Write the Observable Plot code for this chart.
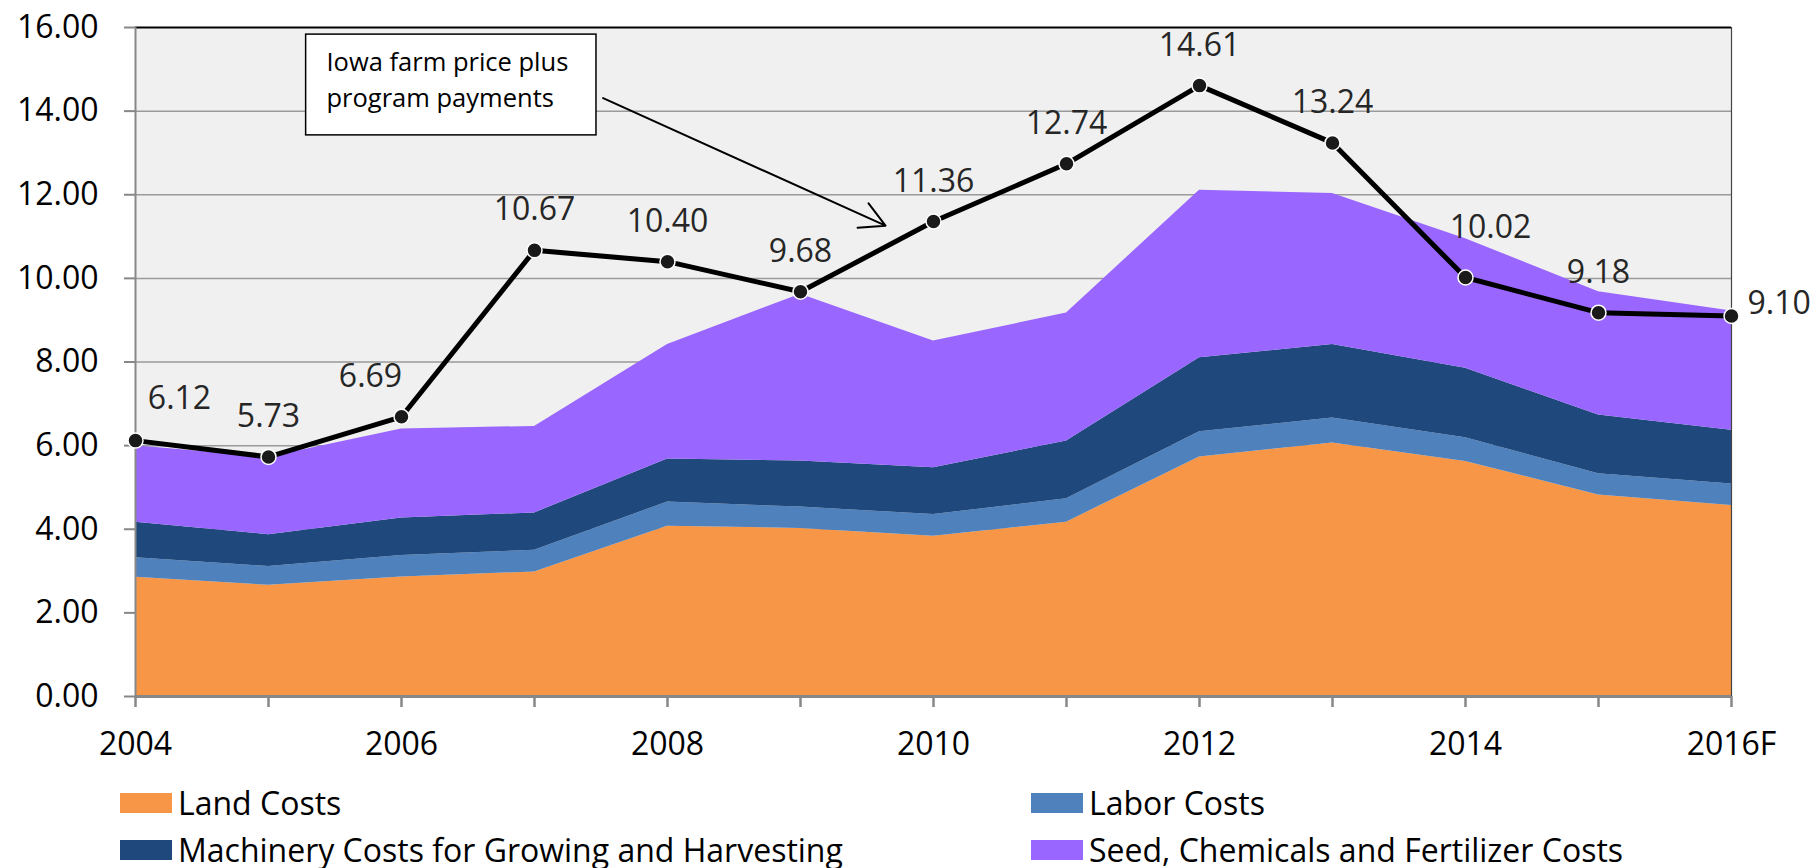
<!DOCTYPE html>
<html>
<head>
<meta charset="utf-8">
<script src="https://cdn.jsdelivr.net/npm/d3@7"></script>
<script src="https://cdn.jsdelivr.net/npm/@observablehq/plot@0.6"></script>
<style>
  html, body { margin: 0; padding: 0; background: #ffffff; overflow: hidden; }
  #chart { width: 1819px; }
  #legend {
    display: grid;
    grid-template-columns: 911px auto;
    padding-left: 120px;
    padding-top: 7px;
    font-family: "Open Sans", sans-serif;
    font-size: 32px;
    color: #000;
  }
  .item { display: flex; align-items: center; height: 47px; white-space: nowrap; }
  .swatch { width: 52px; height: 20px; margin-right: 6px; flex: none; }
</style>
</head>
<body>
<div id="chart"></div>
<div id="legend"></div>
<script>
// ---- data ----
const years = [2004, 2005, 2006, 2007, 2008, 2009, 2010, 2011, 2012, 2013, 2014, 2015, 2016];
const xTickYears = [2004, 2006, 2008, 2010, 2012, 2014, 2016];
const xTickLabels = ["2004", "2006", "2008", "2010", "2012", "2014", "2016F"];
const yTicks = [0, 2, 4, 6, 8, 10, 12, 14, 16];

const categories = [
  "Land Costs",
  "Labor Costs",
  "Machinery Costs for Growing and Harvesting",
  "Seed, Chemicals and Fertilizer Costs"
];
const colors = ["#F79646", "#4F81BD", "#1F497D", "#9966FF"];

const landCosts      = [2.85, 2.66, 2.86, 2.98, 4.07, 4.02, 3.83, 4.17, 5.73, 6.06, 5.62, 4.82, 4.57];
const laborCosts     = [0.47, 0.45, 0.51, 0.52, 0.58, 0.51, 0.52, 0.56, 0.60, 0.60, 0.57, 0.51, 0.51];
const machineryCosts = [0.85, 0.76, 0.90, 0.89, 1.03, 1.10, 1.12, 1.38, 1.77, 1.76, 1.66, 1.40, 1.29];
const seedCosts      = [1.83, 1.85, 2.13, 2.07, 2.74, 3.99, 3.03, 3.06, 4.01, 3.61, 3.10, 2.95, 2.85];

const priceWithPayments = [6.12, 5.73, 6.69, 10.67, 10.40, 9.68, 11.36, 12.74, 14.61, 13.24, 10.02, 9.18, 9.10];

const annotationText = "Iowa farm price plus\nprogram payments";

// ---- tables built from the arrays ----
const series = [landCosts, laborCosts, machineryCosts, seedCosts];
const costTable = categories.flatMap((c, ci) =>
  years.map((yr, i) => ({year: yr, category: c, value: series[ci][i]}))
);
const priceTable = years.map((yr, i) => ({year: yr, value: priceWithPayments[i]}));

// label placement (offsets in px) for the price labels
const labelPlacement = {
  2004: {dx: 44, dy: -32, anchor: "middle"},
  2006: {dx: -31, dy: -30, anchor: "middle"},
  2014: {dx: 25, dy: -40, anchor: "middle"},
  2016: {dx: 16, dy: -2, anchor: "start"}
};

// annotation placement (in data coordinates)
const box = {x1: 2005.283, x2: 2007.466, y1: 13.42, y2: 15.83};
const arrowSpec = {x1: 2007.516, y1: 14.31, x2: 2009.639, y2: 11.26};
const boxTextPos = {x: 2005.436, y: 15.56};

const FONT = "Open Sans";

const labelMarks = priceTable.map(d => {
  const p = labelPlacement[d.year] || {dx: 0, dy: -30, anchor: "middle"};
  return Plot.text([d], {
    x: "year", y: "value", text: r => r.value.toFixed(2),
    dx: p.dx, dy: p.dy, textAnchor: p.anchor, lineAnchor: "bottom",
    fontSize: 32, fill: "#262626", fontFamily: FONT
  });
});

const chart = Plot.plot({
  width: 1819,
  height: 772,
  marginLeft: 135,
  marginRight: 88,
  marginTop: 27,
  marginBottom: 76,
  style: {fontFamily: FONT, background: "white", overflow: "visible"},
  x: {type: "linear", domain: [2004, 2016], axis: null},
  y: {domain: [0, 16], axis: null},
  color: {domain: categories, range: colors},
  marks: [
    Plot.frame({fill: "#F0F0F0", stroke: null}),
    Plot.ruleY(yTicks.filter(t => t > 0 && t < 16), {stroke: "#9a9a9a", strokeWidth: 1.5}),
    Plot.areaY(costTable, {x: "year", y: "value", fill: "category", order: categories, curve: "linear"}),
    Plot.ruleY([16], {stroke: "black", strokeWidth: 2}),
    Plot.ruleX([2016], {stroke: "#444", strokeWidth: 1.2}),
    Plot.ruleX([2004], {stroke: "#878787", strokeWidth: 2}),
    Plot.ruleY([0], {stroke: "#878787", strokeWidth: 3}),
    Plot.axisY({ticks: yTicks, tickSize: 11, tickFormat: () => "", color: "#878787", strokeWidth: 2}),
    Plot.axisY({ticks: yTicks, tickSize: 0, tickPadding: 37, tickFormat: d => d.toFixed(2),
      fontSize: 32, color: "#000", fontFamily: FONT}),
    Plot.axisX({ticks: years, tickSize: 11, tickFormat: () => "", color: "#878787", strokeWidth: 2.5}),
    Plot.axisX({ticks: xTickYears, tickSize: 0, tickPadding: 36,
      tickFormat: d => xTickLabels[xTickYears.indexOf(d)], fontSize: 32, color: "#000", fontFamily: FONT}),
    Plot.line(priceTable, {x: "year", y: "value", stroke: "black", strokeWidth: 5}),
    Plot.dot(priceTable, {x: "year", y: "value", r: 7.5, fill: "#1a1a1a", stroke: "white", strokeWidth: 1.5}),
    ...labelMarks,
    Plot.rect([box], {x1: "x1", x2: "x2", y1: "y1", y2: "y2", fill: "white", stroke: "black", strokeWidth: 1.5}),
    Plot.text([boxTextPos], {x: "x", y: "y", text: () => annotationText, textAnchor: "start",
      lineAnchor: "top", lineHeight: 1.4, fontSize: 25.5, fill: "#000", fontFamily: FONT}),
    Plot.arrow([arrowSpec], {x1: "x1", y1: "y1", x2: "x2", y2: "y2", stroke: "black",
      strokeWidth: 2, headLength: 21, headAngle: 57, bend: 0})
  ]
});
document.getElementById("chart").appendChild(chart);

// ---- legend ----
const legend = document.getElementById("legend");
categories.forEach((c, i) => {
  const item = document.createElement("div");
  item.className = "item";
  const sw = document.createElement("span");
  sw.className = "swatch";
  sw.style.background = colors[i];
  const tx = document.createElement("span");
  tx.textContent = c;
  item.appendChild(sw);
  item.appendChild(tx);
  legend.appendChild(item);
});
</script>
</body>
</html>
